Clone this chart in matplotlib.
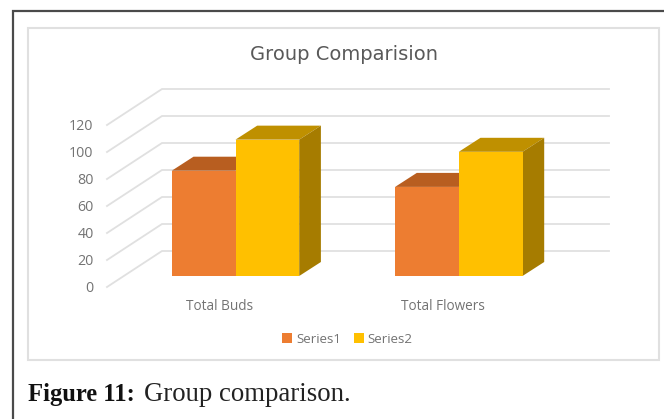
import numpy as np
import matplotlib
matplotlib.use("Agg")
import matplotlib.pyplot as plt
from matplotlib.patches import Polygon, Rectangle

categories = ["Total Buds", "Total Flowers"]
series1 = [78, 66]
series2 = [101, 92]
series_names = ["Series1", "Series2"]
y_ticks = [0, 20, 40, 60, 80, 100, 120]

W, H = 664, 419
PX_PER_X = 223.3  # one category step
PX_PER_Y = 1.35  # one value unit
X0, Y0 = 235.5, 276  # where category 0 / value 0 sit on the bar plane

GRID = "#e0e0e0"
TEXT = "#737373"
ORANGE, ORANGE_TOP = "#ed7d31", "#b85e20"
YELLOW, YELLOW_TOP, YELLOW_SIDE = "#ffc000", "#bf9000", "#a67c00"


def xd(px):
    return px / PX_PER_X


def yd(px):
    return px / PX_PER_Y


fig = plt.figure(figsize=(W / 100, H / 100), dpi=100, facecolor="white")

# page furniture in pixel coordinates
page = fig.add_axes([0, 0, 1, 1])
page.set_xlim(0, W)
page.set_ylim(H, 0)
page.axis("off")
page.plot([12.5, 12.5, W], [H, 11, 11], color="#4a4a4a", lw=1.6, solid_joinstyle="miter")
page.add_patch(Rectangle((28, 28), 631, 332, fc="white", ec=GRID, lw=1.5))
page.text(28, 394, "Figure 11:", family="Liberation Serif", weight="bold",
          size=17.7, color="#111111", va="center")
page.text(144, 394, "Group comparison.", family="Liberation Serif",
          size=19.3, color="#222222", va="center")
page.text(344, 54, "Group Comparision", family="DejaVu Sans", size=14,
          color="#595959", ha="center", va="center")

# chart axes: x in categories, y in values, both mapped to the same canvas
ax = fig.add_axes([0, 0, 1, 1], facecolor="none")
ax.set_xlim(-X0 / PX_PER_X, (W - X0) / PX_PER_X)
ax.set_ylim((Y0 - H) / PX_PER_Y, Y0 / PX_PER_Y)
ax.axis("off")

# walls: each gridline runs from the front edge to the back, then across
for v in y_ticks:
    xs = [xd(107 - X0), xd(162 - X0), xd(609 - X0)]
    ys = [v + yd(-11), v + yd(25), v + yd(25)]
    ax.plot(xs, ys, color=GRID, lw=1.3, zorder=1)
    ax.text(xd(93.5 - X0), v + yd(-12.5), str(v), family="Open Sans", size=10.3,
            color=TEXT, ha="right", va="center")

bar_w = 63.7 / PX_PER_X
dx, dy = xd(21.7), yd(14)
x = np.arange(len(categories))

bars1 = ax.bar(x - bar_w / 2, series1, bar_w, color=ORANGE, zorder=3, label=series_names[0])
bars2 = ax.bar(x + bar_w / 2, series2, bar_w, color=YELLOW, zorder=5, label=series_names[1])

for i in x:
    left1, v1 = i - bar_w, series1[i]
    mid, v2 = i, series2[i]
    right = i + bar_w
    ax.add_patch(Polygon([(left1, v1), (left1 + dx, v1 + dy), (mid + dx, v1 + dy), (mid, v1)],
                         fc=ORANGE_TOP, ec="none", zorder=2))
    ax.add_patch(Polygon([(mid, v2), (mid + dx, v2 + dy), (right + dx, v2 + dy), (right, v2)],
                         fc=YELLOW_TOP, ec="none", zorder=4))
    ax.add_patch(Polygon([(right, 0), (right + dx, dy), (right + dx, v2 + dy), (right, v2)],
                         fc=YELLOW_SIDE, ec="none", zorder=4))
    ax.text(i + xd(-16), yd(-30), categories[i], family="Open Sans", size=9.8,
            color=TEXT, ha="center", va="center")

leg = ax.legend(handles=[bars1, bars2], loc="center", bbox_to_anchor=(347.5 / W, 1 - 339 / H),
                bbox_transform=fig.transFigure, ncol=2, frameon=False,
                handlelength=0.75, handleheight=0.75, handletextpad=0.3, columnspacing=0.95,
                prop={"family": "Open Sans", "size": 9.6})
for t in leg.get_texts():
    t.set_color(TEXT)

fig.savefig("out.png", dpi=100)
